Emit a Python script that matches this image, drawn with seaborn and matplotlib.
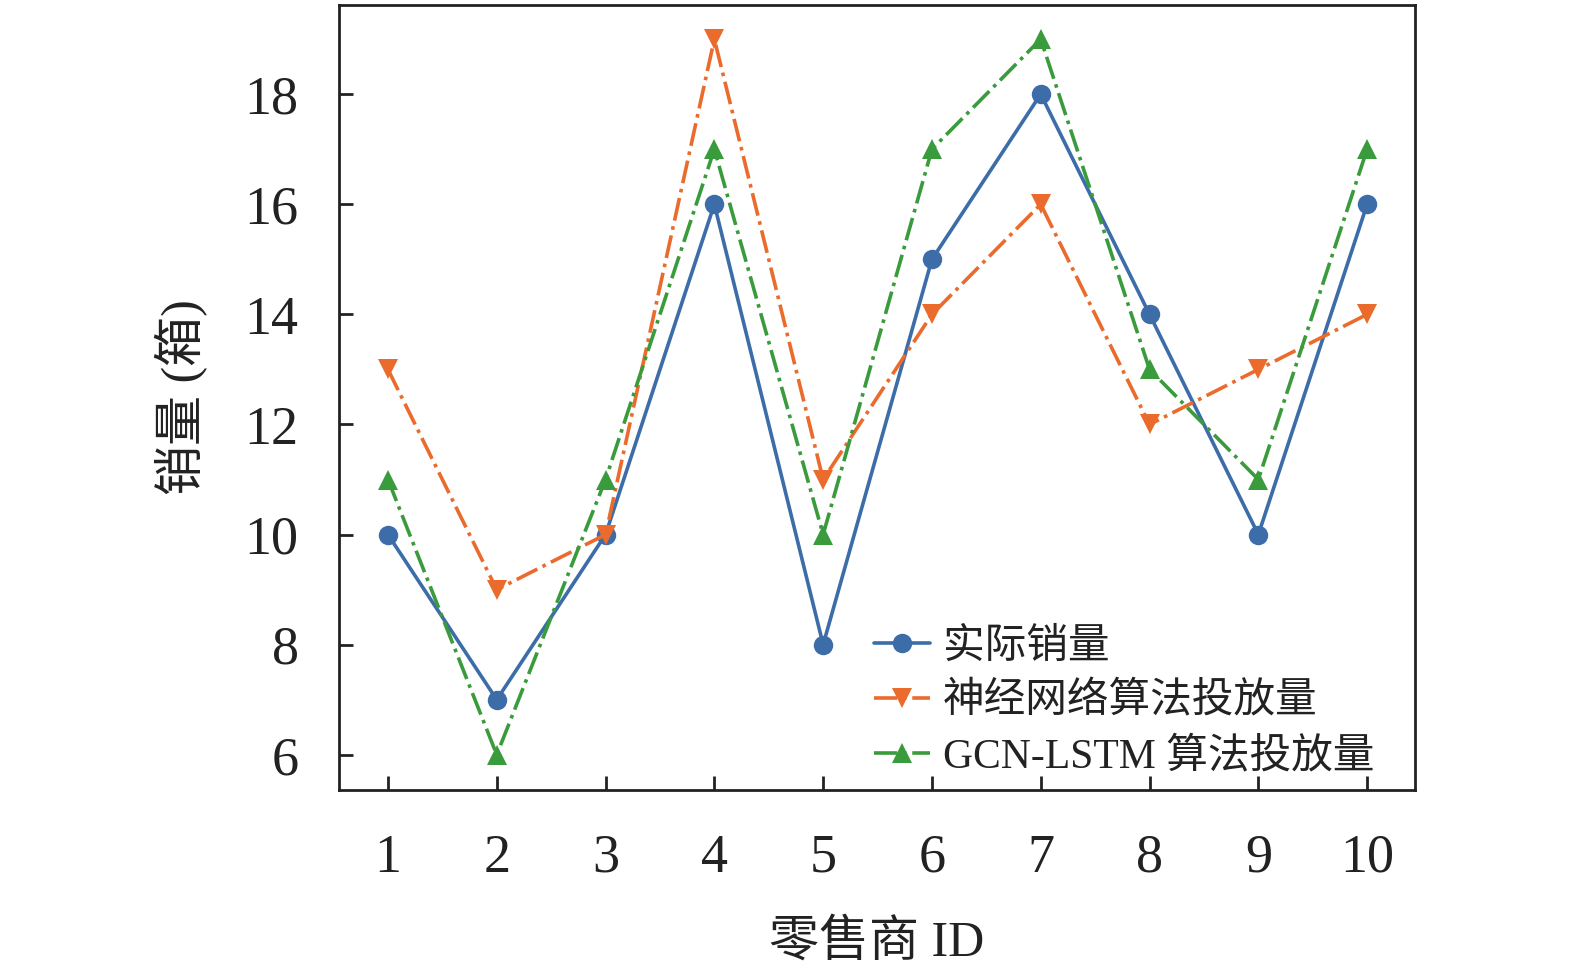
import pandas as pd
import matplotlib
matplotlib.use('Agg')
import matplotlib.pyplot as plt
import seaborn as sns

# Data
retailer_ids = [1, 2, 3, 4, 5, 6, 7, 8, 9, 10]
actual_sales = [10, 7, 10, 16, 8, 15, 18, 14, 10, 16]
nn_supply = [13, 9, 10, 19, 11, 14, 16, 12, 13, 14]
gcn_lstm_supply = [11, 6, 11, 17, 10, 17, 19, 13, 11, 17]

series_names = ['实际销量', '神经网络算法投放量', 'GCN-LSTM 算法投放量']

df = pd.DataFrame({
    'id': retailer_ids * 3,
    'value': actual_sales + nn_supply + gcn_lstm_supply,
    'series': [series_names[0]] * 10 + [series_names[1]] * 10 + [series_names[2]] * 10,
})

sns.set_style('white')
plt.rcParams['font.family'] = ['Liberation Serif', 'Noto Sans CJK SC']
plt.rcParams['axes.unicode_minus'] = False

colors = ['#3C6DA8', '#EA6B2C', '#3A9B3C']
markers = ['o', 'v', '^']
styles = ['-', '-.', '-.']

fig = plt.figure(figsize=(15.75, 9.76), dpi=100)
ax = fig.add_axes([339 / 1575, 1 - 790 / 976, 1076 / 1575, 785 / 976])

for name, c, m, ls in zip(series_names, colors, markers, styles):
    sub = df[df['series'] == name]
    sns.lineplot(data=sub, x='id', y='value', ax=ax, color=c, marker=m,
                 markersize=14, markeredgewidth=0, linewidth=2.6,
                 linestyle=ls, label=name)

ax.set_xlim(0.55, 10.44)
ax.set_ylim(5.36, 19.62)
ax.set_xticks(retailer_ids)
ax.set_yticks([6, 8, 10, 12, 14, 16, 18])
ax.tick_params(axis='both', direction='in', length=10, width=2, labelsize=39,
               colors='#222222', bottom=True, left=True, top=False, right=False)
ax.tick_params(axis='x', pad=31)
ax.tick_params(axis='y', pad=29)
for s in ax.spines.values():
    s.set_linewidth(2)
    s.set_color('#222222')

ax.set_xlabel('零售商 ID', fontsize=36, labelpad=26, color='#222222')
ax.set_ylabel('销量 (箱)', fontsize=36, labelpad=26, color='#222222')

leg = ax.legend(loc='lower left', bbox_to_anchor=(0.47, -0.02), frameon=False,
                fontsize=30, handlelength=1.35, handletextpad=0.3,
                labelspacing=0.38, borderpad=0.2)
for t in leg.get_texts():
    t.set_color('#222222')

fig.savefig('out.png', dpi=100)
